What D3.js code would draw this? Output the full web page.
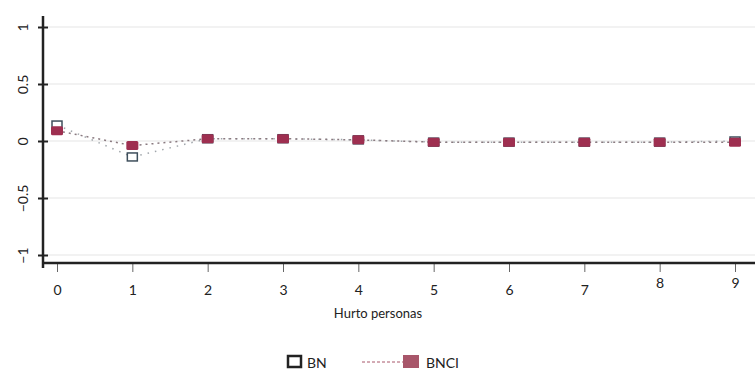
<!DOCTYPE html>
<html>
<head>
<meta charset="utf-8">
<script src="https://cdn.jsdelivr.net/npm/d3@7"></script>
<style>
  body { margin: 0; background: #fff; }
  text { font-family: Lato, "Open Sans", sans-serif; fill: #222; }
</style>
</head>
<body>
<div id="chart"></div>
<script>
/**
 * Data
 */
const categories = [0, 1, 2, 3, 4, 5, 6, 7, 8, 9];
const bnValues = [0.14, -0.14, 0.02, 0.02, 0.01, -0.01, -0.01, -0.01, -0.01, 0];
const bnciValues = [0.09, -0.04, 0.02, 0.02, 0.01, -0.01, -0.01, -0.01, -0.01, -0.01];
const yTicks = [-1, -0.5, 0, 0.5, 1];
const xTickLabels = ["0", "1", "2", "3", "4", "5", "6", "7", "8", "9"];

const width = 755;
const height = 377;

const svg = d3.select("#chart")
  .append("svg")
  .attr("width", width)
  .attr("height", height);

/**
 * Scales
 */
const xScale = d3.scaleLinear()
  .domain([0, 9])
  .range([57, 735]);

const yScale = d3.scaleLinear()
  .domain([-1, 1])
  .range([255, 27]);

/**
 * Grid lines
 */
svg.append("g")
  .selectAll("line")
  .data(yTicks)
  .enter()
  .append("line")
  .attr("x1", 48)
  .attr("x2", width)
  .attr("y1", d => yScale(d))
  .attr("y2", d => yScale(d))
  .attr("stroke", "#f2f2f2")
  .attr("stroke-width", 2);

/**
 * Axes
 */
const yAxis = d3.axisLeft(yScale)
  .tickValues(yTicks)
  .tickSizeInner(5)
  .tickSizeOuter(0)
  .tickFormat(d => d3.format("")(d));

const yG = svg.append("g")
  .attr("transform", "translate(43,0)")
  .call(yAxis);
yG.select(".domain").remove();
yG.selectAll(".tick line")
  .attr("x1", -5).attr("x2", 5)
  .attr("stroke", "#222").attr("stroke-width", 2);
yG.selectAll(".tick text")
  .attr("transform", "rotate(-90)")
  .attr("x", 0)
  .attr("y", -15)
  .attr("dy", 0)
  .attr("text-anchor", "middle")
  .style("font-size", "14px");

svg.append("line")
  .attr("x1", 43).attr("x2", 43)
  .attr("y1", 16).attr("y2", 268)
  .attr("stroke", "#222").attr("stroke-width", 2.5);

const xAxis = d3.axisBottom(xScale)
  .tickValues(categories)
  .tickSizeInner(9)
  .tickSizeOuter(0)
  .tickFormat((d, i) => xTickLabels[i]);

const xG = svg.append("g")
  .attr("transform", "translate(0,263)")
  .call(xAxis);
xG.select(".domain").remove();
xG.selectAll(".tick line").attr("stroke", "#666").attr("stroke-width", 1);
xG.selectAll(".tick text")
  .attr("y", d => d >= 8 ? 15 : 22)
  .style("font-size", "14px");

svg.append("line")
  .attr("x1", 42).attr("x2", width)
  .attr("y1", 263).attr("y2", 263)
  .attr("stroke", "#222").attr("stroke-width", 2.5);

svg.append("text")
  .attr("x", 378)
  .attr("y", 318)
  .attr("text-anchor", "middle")
  .style("font-size", "13px")
  .text("Hurto personas");

/**
 * Lines
 */
const lineShape = d3.line()
  .x((d, i) => xScale(categories[i]))
  .y(d => yScale(d));

svg.append("path")
  .datum(bnValues)
  .attr("d", lineShape)
  .attr("fill", "none")
  .attr("stroke", "#a0a6ab")
  .attr("stroke-width", 1.5)
  .attr("stroke-dasharray", "1.5,6");

svg.append("path")
  .datum(bnciValues)
  .attr("d", lineShape)
  .attr("fill", "none")
  .attr("stroke", "#8a7a80")
  .attr("stroke-width", 1.5)
  .attr("stroke-dasharray", "2,4");

/**
 * Markers
 */
svg.append("g")
  .selectAll("rect")
  .data(bnValues)
  .enter()
  .append("rect")
  .attr("x", (d, i) => xScale(categories[i]) - 5)
  .attr("y", d => yScale(d) - 4)
  .attr("width", 10)
  .attr("height", 8)
  .attr("fill", "#fff")
  .attr("stroke", "#3e4f5c")
  .attr("stroke-width", 1.5);

svg.append("g")
  .selectAll("rect")
  .data(bnciValues)
  .enter()
  .append("rect")
  .attr("x", (d, i) => xScale(categories[i]) - 6)
  .attr("y", d => yScale(d) - 4.5)
  .attr("width", 12)
  .attr("height", 9)
  .attr("rx", 1.5)
  .attr("fill", "#9e2f50");

/**
 * Legend
 */
const legend = svg.append("g");
legend.append("rect")
  .attr("x", 288).attr("y", 356)
  .attr("width", 13).attr("height", 11)
  .attr("fill", "#fff")
  .attr("stroke", "#222")
  .attr("stroke-width", 2.5);
legend.append("text")
  .attr("x", 307).attr("y", 368)
  .style("font-size", "14px")
  .text("BN");
legend.append("line")
  .attr("x1", 362).attr("x2", 404)
  .attr("y1", 362).attr("y2", 362)
  .attr("stroke", "#a8566a")
  .attr("stroke-width", 1)
  .attr("stroke-dasharray", "3,2");
legend.append("rect")
  .attr("x", 403).attr("y", 355)
  .attr("width", 16).attr("height", 13)
  .attr("fill", "#a8566a");
legend.append("text")
  .attr("x", 426).attr("y", 368)
  .style("font-size", "14px")
  .text("BNCI");
</script>
</body>
</html>
